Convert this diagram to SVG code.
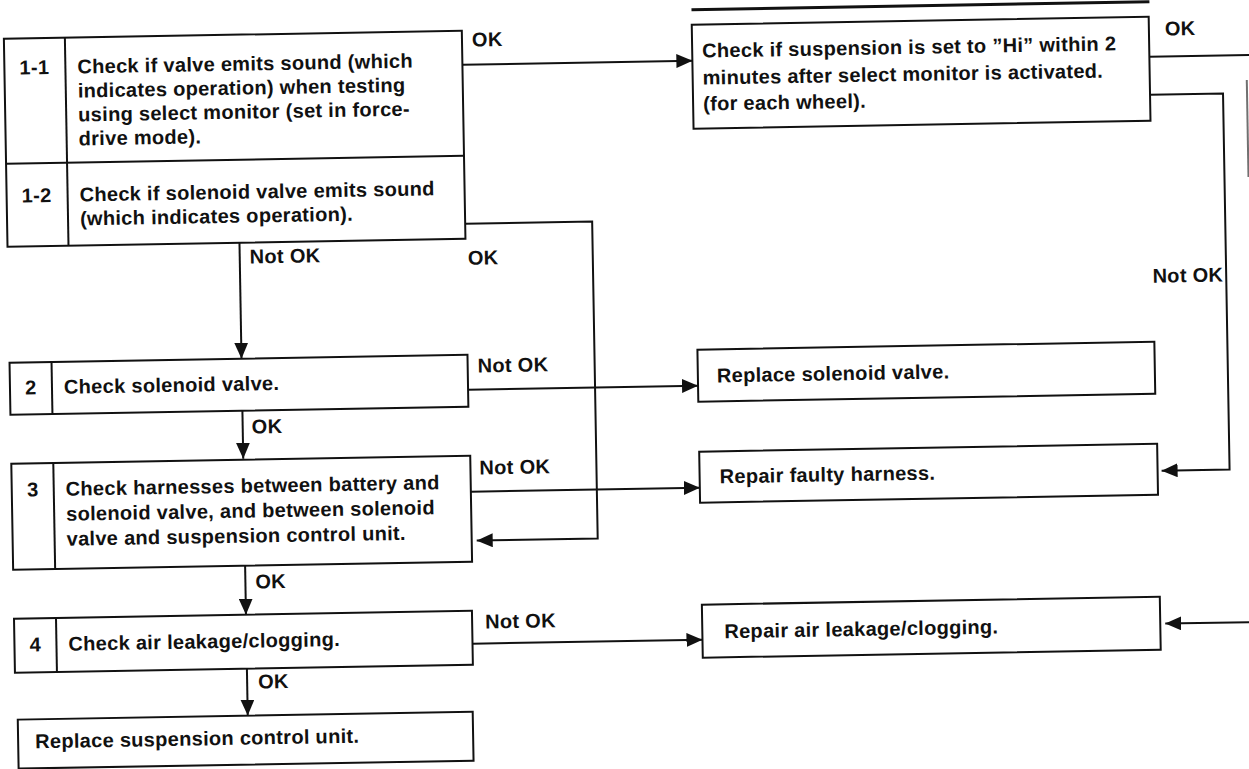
<svg xmlns="http://www.w3.org/2000/svg" width="1249" height="769" viewBox="0 0 1249 769">
  <style>
    .box { fill: #fff; stroke: #111; stroke-width: 2; }
    .div { stroke: #111; stroke-width: 2; fill: none; }
    .wire { stroke: #111; stroke-width: 2; fill: none; }
    .arrow { marker-end: url(#head); }
    text { font-family: "Liberation Sans", Arial, sans-serif; font-weight: bold; font-size: 20px; letter-spacing: 0.3px; fill: #111; }
    .num { text-anchor: middle; }
  </style>
  <defs>
    <marker id="head" markerUnits="userSpaceOnUse" markerWidth="16" markerHeight="14" refX="16" refY="7" orient="auto">
      <path d="M0,0 L16,7 L0,14 Z" fill="#111"/>
    </marker>
  </defs>
  <rect width="1249" height="769" fill="#fff"/>

  <!-- whole sheet sits slightly rotated -->
  <g transform="rotate(-1 624 384)">
    <!-- edge of the preceding block -->
    <line x1="698" y1="11" x2="1156" y2="11" stroke="#111" stroke-width="3"/>

    <g id="connectors">
      <!-- 1-1 OK -->
      <path class="wire arrow" d="M468,62 H698"/>
      <text x="478" y="44">OK</text>
      <!-- 1-2 OK, loops back to step 3 -->
      <path class="wire arrow" d="M468,221 H595 V538 H474"/>
      <text x="470" y="262">OK</text>
      <!-- 1-2 Not OK -->
      <path class="wire arrow" d="M242,236 V352"/>
      <text x="252" y="257">Not OK</text>
      <!-- step 2 -->
      <path class="wire arrow" d="M468,387 H698"/>
      <text x="478" y="370">Not OK</text>
      <path class="wire arrow" d="M242,404 V452"/>
      <text x="251" y="427">OK</text>
      <!-- step 3 -->
      <path class="wire arrow" d="M469,489 H698"/>
      <text x="478" y="472">Not OK</text>
      <path class="wire arrow" d="M242,559 V608"/>
      <text x="252" y="582">OK</text>
      <!-- step 4 -->
      <path class="wire arrow" d="M468,641 H698"/>
      <text x="481" y="626">Not OK</text>
      <path class="wire arrow" d="M242,662 V709"/>
      <text x="253" y="682">OK</text>
      <!-- suspension check -->
      <path class="wire" d="M1155,66 H1275"/>
      <text x="1171" y="45">OK</text>
      <path class="wire" d="M1252,91 V188" stroke-opacity="0.6"/>
      <path class="wire arrow" d="M1155,104 H1228 V480 H1160"/>
      <text x="1225" y="292" text-anchor="end">Not OK</text>
      <!-- incoming from the right -->
      <path class="wire arrow" d="M1275,633 H1161"/>
    </g>

    <g id="step1">
      <rect class="box" x="10" y="28" width="458" height="208"/>
      <line class="div" x1="71" y1="28" x2="71" y2="236"/>
      <line class="div" x1="10" y1="153" x2="468" y2="153"/>
      <text class="num" x="40" y="64">1-1</text>
      <text x="83" y="64">Check if valve emits sound (which</text>
      <text x="83" y="88">indicates operation) when testing</text>
      <text x="83" y="112">using select monitor (set in force-</text>
      <text x="83" y="136">drive mode).</text>
      <text class="num" x="40" y="192">1-2</text>
      <text x="83" y="192">Check if solenoid valve emits sound</text>
      <text x="83" y="216">(which indicates operation).</text>
    </g>

    <g id="suspension-check">
      <rect class="box" x="698" y="26" width="457" height="104"/>
      <text x="708" y="59">Check if suspension is set to ”Hi” within 2</text>
      <text x="708" y="86">minutes after select monitor is activated.</text>
      <text x="708" y="112">(for each wheel).</text>
    </g>

    <g id="step2">
      <rect class="box" x="10" y="352" width="458" height="52"/>
      <line class="div" x1="52" y1="352" x2="52" y2="404"/>
      <text class="num" x="31" y="384">2</text>
      <text x="64" y="384">Check solenoid valve.</text>
    </g>

    <g id="replace-valve">
      <rect class="box" x="698" y="351" width="457" height="52"/>
      <text x="717" y="384">Replace solenoid valve.</text>
    </g>

    <g id="step3">
      <rect class="box" x="10" y="453" width="459" height="106"/>
      <line class="div" x1="52" y1="453" x2="52" y2="559"/>
      <text class="num" x="31" y="486">3</text>
      <text x="64" y="486">Check harnesses between battery and</text>
      <text x="64" y="511">solenoid valve, and between solenoid</text>
      <text x="64" y="536">valve and suspension control unit.</text>
    </g>

    <g id="repair-harness">
      <rect class="box" x="698" y="453" width="458" height="51"/>
      <text x="718" y="485">Repair faulty harness.</text>
    </g>

    <g id="step4">
      <rect class="box" x="10" y="608" width="458" height="54"/>
      <line class="div" x1="52" y1="608" x2="52" y2="662"/>
      <text class="num" x="31" y="641">4</text>
      <text x="64" y="641">Check air leakage/clogging.</text>
    </g>

    <g id="repair-air">
      <rect class="box" x="698" y="606" width="458" height="53"/>
      <text x="720" y="640">Repair air leakage/clogging.</text>
    </g>

    <g id="replace-unit">
      <rect class="box" x="12" y="709" width="455" height="49"/>
      <text x="29" y="738">Replace suspension control unit.</text>
    </g>
  </g>
</svg>
